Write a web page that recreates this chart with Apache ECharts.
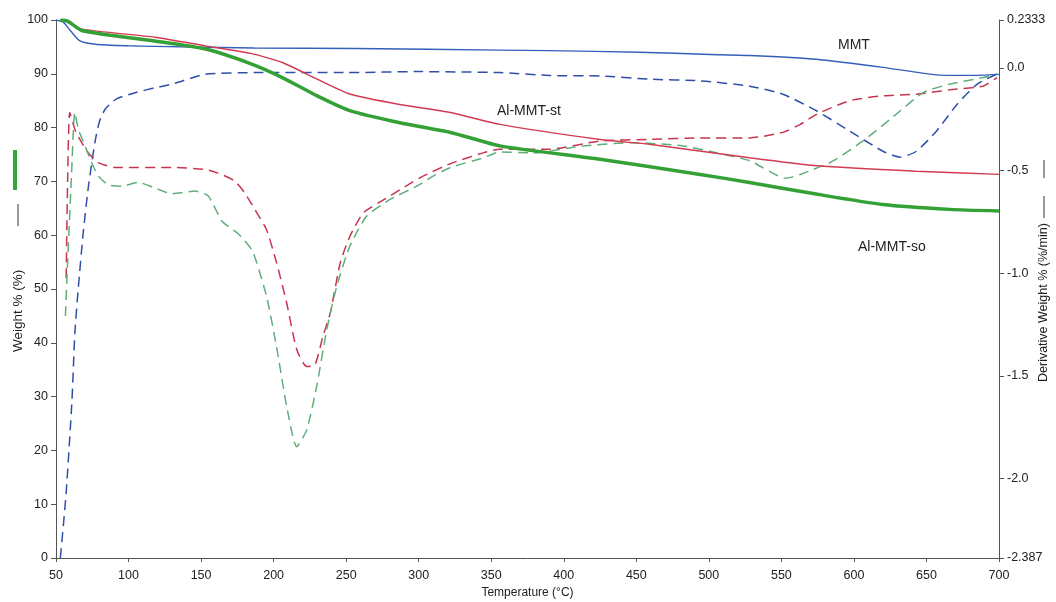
<!DOCTYPE html>
<html>
<head>
<meta charset="utf-8">
<script src="https://cdn.jsdelivr.net/npm/echarts@6/dist/echarts.min.js"></script>
<style>
  html, body { margin: 0; padding: 0; background: #fff; }
  #chart { width: 1056px; height: 602px; }
</style>
</head>
<body>
<div id="chart"></div>
<script>
// weight % curves (left axis) : [temperature, weight]
var mmtWeight = [[50,100],[55,99.6],[60,98.0],[66.5,96.1],[77,95.5],[100,95.2],[118,95.1],[187,94.8],[256,94.7],[356,94.4],[390,94.3],[452,94.0],[501,93.6],[528,93.4],[574,92.7],[620,91.2],[657,89.8],[680,89.7],[700,89.9]]
var stWeight = [[53,100],[58,99.6],[68,98.3],[118,96.8],[153,95.2],[184,93.8],[206,92.1],[230,89.0],[253,86.2],[287,84.3],[322,82.8],[356,80.6],[425,77.8],[459,76.9],[528,74.4],[575,72.9],[643,71.9],[700,71.3]]
var soWeight = [[53,100],[58,99.8],[68,98.0],[118,96.1],[153,94.6],[184,91.9],[206,89.3],[230,85.9],[253,83.1],[287,80.9],[322,79.1],[356,76.6],[425,74.1],[494,71.3],[528,69.8],[575,67.6],[620,65.7],[666,64.8],[700,64.5]]

// derivative weight curves (right axis, %/min) : [temperature, deriv]
var mmtDeriv = [[53,-2.387],[57,-2.07],[61,-1.62],[63,-1.29],[65.4,-1.07],[68.8,-0.80],[72.3,-0.58],[76.9,-0.36],[80,-0.26],[84,-0.20],[92,-0.15],[105,-0.12],[118,-0.097],[130,-0.079],[153,-0.031],[187,-0.023],[250,-0.023],[300,-0.018],[356,-0.023],[390,-0.037],[425,-0.039],[459,-0.055],[494,-0.063],[528,-0.089],[551,-0.128],[574.5,-0.21],[597,-0.307],[620,-0.406],[632,-0.435],[643,-0.406],[657,-0.307],[671,-0.178],[685,-0.079],[698,-0.031],[700,-0.02]]
var stDeriv = [[57,-1.024],[58,-0.553],[59.5,-0.217],[63,-0.299],[67.7,-0.364],[72.3,-0.414],[79.2,-0.461],[90.7,-0.485],[130,-0.485],[153,-0.495],[164,-0.519],[173,-0.55],[180,-0.608],[187,-0.689],[195,-0.786],[202,-0.948],[209,-1.145],[216,-1.373],[222.8,-1.454],[228.5,-1.446],[234,-1.307],[239,-1.195],[246,-0.948],[252.6,-0.82],[262,-0.705],[276,-0.642],[294,-0.564],[303,-0.527],[322,-0.466],[344.5,-0.414],[356,-0.396],[390,-0.396],[425,-0.356],[459,-0.348],[494,-0.341],[528,-0.341],[551,-0.314],[563,-0.275],[574.5,-0.225],[597,-0.16],[620,-0.136],[643,-0.128],[666,-0.107],[689,-0.089],[698.6,-0.047]]
var soDeriv = [[56.5,-1.208],[58,-0.946],[60.5,-0.553],[63,-0.217],[65.4,-0.299],[70,-0.38],[74.6,-0.461],[79.2,-0.527],[86,-0.569],[95.3,-0.576],[106.7,-0.558],[118,-0.584],[129.7,-0.613],[145.8,-0.6],[155,-0.624],[164.5,-0.747],[176,-0.81],[185,-0.886],[188.3,-0.948],[195.2,-1.114],[202,-1.357],[209,-1.648],[215.9,-1.845],[222.8,-1.763],[229.7,-1.551],[236.6,-1.276],[243.5,-1.064],[252.6,-0.867],[264,-0.723],[280,-0.642],[298.6,-0.576],[310,-0.527],[322,-0.485],[344.5,-0.438],[356,-0.409],[379,-0.414],[413,-0.38],[448,-0.364],[482,-0.38],[505.6,-0.414],[528.4,-0.453],[553,-0.537],[563,-0.519],[585.6,-0.453],[609,-0.341],[631.8,-0.21],[647.8,-0.12],[666,-0.079],[689,-0.047],[698.6,-0.031]]

var rightTicks = [-2.387, -2.0, -1.5, -1.0, -0.5, 0.0, 0.2333]

var chart = echarts.init(document.getElementById('chart'))
var axisColor = '#555'
var fontFam = 'Liberation Sans, Arial, sans-serif'
var labelStyle = { color: '#222', fontSize: 12.5, fontFamily: fontFam }

function solid(name, data, color, width) {
  return { name: name, type: 'line', data: data, yAxisIndex: 0, showSymbol: false, smooth: 0.2,
    lineStyle: { color: color, width: width }, z: 3 }
}
function dashed(name, data, color) {
  return { name: name, type: 'line', data: data, yAxisIndex: 1, showSymbol: false, smooth: 0.2,
    lineStyle: { color: color, width: 1.5, type: [10, 6] }, z: 2 }
}

var option = {
  backgroundColor: '#fff',
  animation: false,
  grid: { left: 56, right: 57, top: 20, bottom: 44, containLabel: false, outerBoundsMode: 'none' },
  xAxis: {
    type: 'value', min: 50, max: 700, interval: 50,
    name: 'Temperature (°C)', nameLocation: 'middle', nameGap: 29,
    nameTextStyle: { color: '#222', fontSize: 12, fontFamily: fontFam },
    axisLine: { lineStyle: { color: axisColor } },
    axisTick: { length: 4, lineStyle: { color: axisColor } },
    axisLabel: Object.assign({}, labelStyle, { margin: 11 }),
    splitLine: { show: false }
  },
  yAxis: [
    {
      type: 'value', min: 0, max: 100, interval: 10,
      axisLine: { show: true, lineStyle: { color: axisColor } },
      axisTick: { show: true, length: 5, lineStyle: { color: axisColor } },
      axisLabel: labelStyle,
      splitLine: { show: false }
    },
    {
      type: 'value', min: -2.387, max: 0.2333, position: 'right',
      axisLine: { show: true, lineStyle: { color: axisColor } },
      axisTick: { show: true, length: 5, lineStyle: { color: axisColor }, customValues: rightTicks },
      axisLabel: Object.assign({}, labelStyle, {
        customValues: rightTicks,
        formatter: function (v) {
          if (Math.abs(v + 2.387) < 1e-6) return '-2.387'
          if (Math.abs(v - 0.2333) < 1e-6) return '0.2333'
          return v.toFixed(1)
        }
      }),
      splitLine: { show: false }
    }
  ],
  graphic: [
    { type: 'text', left: 838, top: 38, style: { text: 'MMT', fill: '#222', font: '14px ' + fontFam } },
    { type: 'text', left: 497, top: 104, style: { text: 'Al-MMT-st', fill: '#222', font: '14px ' + fontFam } },
    { type: 'text', left: 858, top: 240, style: { text: 'Al-MMT-so', fill: '#222', font: '14px ' + fontFam } },
    // left axis title with its legend marks
    { type: 'text', x: 11, y: 352, rotation: Math.PI / 2,
      style: { text: 'Weight % (%)', fill: '#222', font: '13.5px ' + fontFam } },
    { type: 'line', shape: { x1: 18, y1: 204, x2: 18, y2: 226 }, style: { stroke: '#333', lineWidth: 1 } },
    { type: 'rect', shape: { x: 13, y: 150, width: 4, height: 40 }, style: { fill: '#3aa33a' } },
    // right axis title with its legend marks
    { type: 'text', x: 1037, y: 382, rotation: Math.PI / 2,
      style: { text: 'Derivative Weight % (%/min)', fill: '#222', font: '12.5px ' + fontFam } },
    { type: 'line', shape: { x1: 1044, y1: 196, x2: 1044, y2: 218 }, style: { stroke: '#333', lineWidth: 1 } },
    { type: 'line', shape: { x1: 1044, y1: 160, x2: 1044, y2: 178 }, style: { stroke: '#333', lineWidth: 1 } }
  ],
  series: [
    dashed('MMT deriv', mmtDeriv, '#2d4fa6'),
    dashed('Al-MMT-st deriv', stDeriv, '#c8344f'),
    dashed('Al-MMT-so deriv', soDeriv, '#5fae7a'),
    solid('MMT', mmtWeight, '#3460bb', 1.4),
    solid('Al-MMT-st', stWeight, '#d23a50', 1.4),
    solid('Al-MMT-so', soWeight, '#34a136', 3.5)
  ]
}
chart.setOption(option)
</script>
</body>
</html>
